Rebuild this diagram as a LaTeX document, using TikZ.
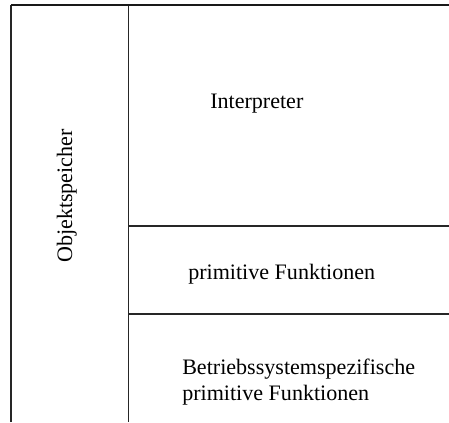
\documentclass[tikz,border=0pt]{standalone}
\usepackage{fontspec}
\setmainfont{Liberation Serif}
\begin{document}
\begin{tikzpicture}[x=0.75pt,y=-0.75pt,
  frame/.style={line width=1.1pt, draw=black!85},
  topline/.style={line width=1.5pt, draw=black!90},
  lbl/.style={inner sep=0pt, font=\fontsize{16.55}{21}\selectfont}]
\useasboundingbox (0,0) rectangle (449,422);
\coordinate (lb) at (11,422);
\coordinate (lt) at (11,5);
\coordinate (mt) at (128.5,5);
\coordinate (mb) at (128.5,422);
\coordinate (rt) at (449,5);
\coordinate (m1) at (128.5,226);
\coordinate (r1) at (449,226);
\coordinate (m2) at (128.5,314);
\coordinate (r2) at (449,314);
\draw[frame] (lb) -- (lt);
\draw[frame] (mt) -- (mb);
\draw[frame] (m1) -- (r1);
\draw[frame] (m2) -- (r2);
\draw[topline] (lt) -- (rt);
\node[lbl, anchor=base west] (interp) at (210,108) {Interpreter};
\node[lbl, anchor=base west] (prim) at (188,279) {primitive Funktionen};
\node[lbl, anchor=base west] (bs1) at (182,374) {Betriebssystemspezifische};
\node[lbl, anchor=base west] (bs2) at (182,400) {primitive Funktionen};
\node[lbl, rotate=90, anchor=base] (obj) at (72,196) {Objektspeicher};
\end{tikzpicture}
\end{document}
